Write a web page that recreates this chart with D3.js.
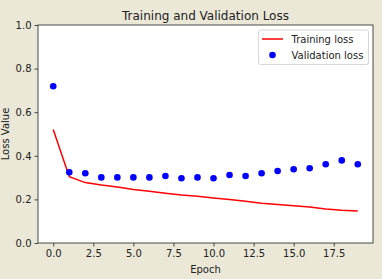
<!DOCTYPE html>
<html>
<head>
<meta charset="utf-8">
<script src="https://cdn.jsdelivr.net/npm/d3@7"></script>
<style>
  body { margin: 0; background: #ebe8d8; }
  text { font-family: "DejaVu Sans", sans-serif; fill: #222; }
</style>
</head>
<body>
<div id="chart"></div>
<script>
// chart values
const epochs = d3.range(0, 20);
const trainingLoss = [0.521, 0.304, 0.277, 0.266, 0.257, 0.245, 0.237, 0.228, 0.220, 0.214,
                      0.206, 0.199, 0.191, 0.182, 0.177, 0.171, 0.165, 0.156, 0.150, 0.147];
const validationLoss = [0.719, 0.324, 0.320, 0.301, 0.301, 0.301, 0.301, 0.307, 0.297, 0.301,
                        0.297, 0.312, 0.307, 0.320, 0.330, 0.338, 0.343, 0.361, 0.379, 0.361];
const xTicks = [0, 2.5, 5, 7.5, 10, 12.5, 15, 17.5];
const yTicks = [0, 0.2, 0.4, 0.6, 0.8, 1.0];

const width = 382;
const height = 279;
const margin = {top: 25, right: 9, bottom: 36, left: 38};

const svg = d3.select("#chart")
    .append("svg")
    .attr("width", width)
    .attr("height", height);

const x = d3.scaleLinear()
    .domain([-0.95, 19.95])
    .range([margin.left, width - margin.right]);

const y = d3.scaleLinear()
    .domain([0, 1])
    .range([height - margin.bottom, margin.top]);

// plot area
svg.append("rect")
    .attr("x", margin.left)
    .attr("y", margin.top)
    .attr("width", width - margin.left - margin.right)
    .attr("height", height - margin.top - margin.bottom)
    .attr("fill", "white");

// training loss line
const line = d3.line()
    .x(function(d, i) { return x(epochs[i]); })
    .y(function(d) { return y(d); });

svg.append("path")
    .datum(trainingLoss)
    .attr("d", line)
    .attr("fill", "none")
    .attr("stroke", "red")
    .attr("stroke-width", 1.5);

// validation loss dots
svg.append("g")
    .selectAll("circle")
    .data(validationLoss)
    .join("circle")
    .attr("cx", function(d, i) { return x(epochs[i]); })
    .attr("cy", function(d) { return y(d); })
    .attr("r", 3.3)
    .attr("fill", "blue");

// axes
const xAxis = svg.append("g")
    .attr("transform", "translate(0," + (height - margin.bottom) + ")")
    .call(d3.axisBottom(x).tickValues(xTicks).tickFormat(d3.format(".1f")).tickSizeInner(3.5).tickSizeOuter(0).tickPadding(3));

const yAxis = svg.append("g")
    .attr("transform", "translate(" + margin.left + ",0)")
    .call(d3.axisLeft(y).tickValues(yTicks).tickFormat(d3.format(".1f")).tickSizeInner(3.5).tickSizeOuter(0).tickPadding(3));

[xAxis, yAxis].forEach(function(a) {
    a.select(".domain").remove();
    a.selectAll("line").attr("stroke", "#222").attr("stroke-width", 0.8);
    a.selectAll("text").attr("font-size", 10).attr("fill", "#222").style("font-family", "DejaVu Sans");
});

// frame
svg.append("rect")
    .attr("x", margin.left)
    .attr("y", margin.top)
    .attr("width", width - margin.left - margin.right)
    .attr("height", height - margin.top - margin.bottom)
    .attr("fill", "none")
    .attr("stroke", "#222")
    .attr("stroke-width", 0.8);

// title and axis labels
svg.append("text")
    .attr("x", (margin.left + width - margin.right) / 2)
    .attr("y", 20)
    .attr("text-anchor", "middle")
    .attr("font-size", 12)
    .text("Training and Validation Loss");

svg.append("text")
    .attr("x", (margin.left + width - margin.right) / 2)
    .attr("y", 273)
    .attr("text-anchor", "middle")
    .attr("font-size", 10)
    .text("Epoch");

svg.append("text")
    .attr("transform", "translate(9," + ((margin.top + height - margin.bottom) / 2) + ") rotate(-90)")
    .attr("text-anchor", "middle")
    .attr("font-size", 10)
    .text("Loss Value");

// legend
const legend = svg.append("g");
legend.append("rect")
    .attr("x", 258.5)
    .attr("y", 30)
    .attr("width", 110)
    .attr("height", 34.5)
    .attr("rx", 2)
    .attr("fill", "white")
    .attr("stroke", "#ccc")
    .attr("stroke-width", 0.8);
legend.append("line")
    .attr("x1", 262).attr("x2", 283)
    .attr("y1", 39).attr("y2", 39)
    .attr("stroke", "red")
    .attr("stroke-width", 1.5);
legend.append("circle")
    .attr("cx", 272.5).attr("cy", 55)
    .attr("r", 3.3)
    .attr("fill", "blue");
legend.append("text")
    .attr("x", 291.5).attr("y", 42.5)
    .attr("font-size", 10)
    .text("Training loss");
legend.append("text")
    .attr("x", 291.5).attr("y", 58.5)
    .attr("font-size", 10)
    .text("Validation loss");
</script>
</body>
</html>
